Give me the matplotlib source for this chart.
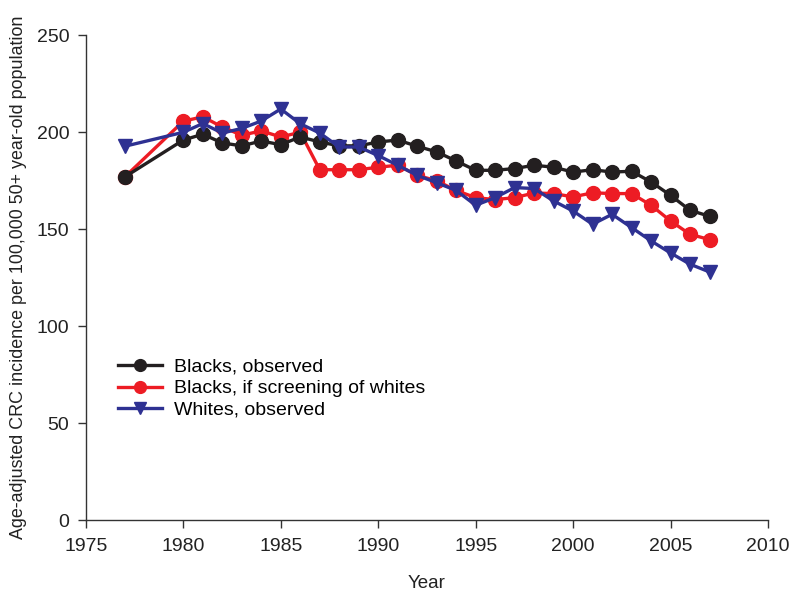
import matplotlib
matplotlib.use("Agg")
import matplotlib.pyplot as plt

plt.rcParams['font.family'] = ['Liberation Sans', 'DejaVu Sans']

years = [1977, 1980, 1981, 1982, 1983, 1984, 1985, 1986, 1987, 1988, 1989, 1990,
         1991, 1992, 1993, 1994, 1995, 1996, 1997, 1998, 1999, 2000, 2001, 2002,
         2003, 2004, 2005, 2006, 2007]
blacks_observed = [177, 196, 199, 194.5, 193, 195.5, 193.6, 197.6, 195, 193, 193, 195,
                   196, 192.8, 189.9, 185.2, 180.4, 180.4, 181.3, 183, 182, 179.5, 180.7, 179.5,
                   179.9, 174.4, 167.5, 159.8, 156.7]
blacks_if_screening = [177, 205.7, 208, 202.7, 198.5, 200.7, 197.6, 200, 180.7, 180.7, 180.7, 182,
                       183, 177.8, 175, 170, 166.3, 165.3, 166.3, 168.7, 168.4, 166.7, 168.8, 168.4,
                       168.4, 162.4, 154.3, 147.4, 144.7]
whites_observed = [192.8, 200, 204.5, 199.6, 202, 205.8, 212, 204.4, 199.6, 192.4, 192.4, 188,
                   183, 177.8, 174, 170, 162.4, 166.3, 171.5, 171, 164.6, 159.4, 152.6, 157.7,
                   150.9, 144, 137.8, 132, 128]

x_ticks = [1975, 1980, 1985, 1990, 1995, 2000, 2005, 2010]
y_ticks = [0, 50, 100, 150, 200, 250]

fig = plt.figure(figsize=(7.95, 5.98), dpi=100)
ax = fig.add_axes([0.108, 0.130, 0.858, 0.811])

lw = 2.4
ax.plot(years, blacks_observed, color='#231f20', lw=lw, marker='o', ms=10,
        label='Blacks, observed', zorder=3)
ax.plot(years, blacks_if_screening, color='#ed1c24', lw=lw, marker='o', ms=10,
        label='Blacks, if screening of whites', zorder=2)
ax.plot(years, whites_observed, color='#2e3192', lw=lw, marker='v', ms=10,
        label='Whites, observed', zorder=4)

ax.set_xlim(1975, 2010)
ax.set_ylim(0, 250)
ax.set_xticks(x_ticks)
ax.set_yticks(y_ticks)
for s in ['top', 'right']:
    ax.spines[s].set_visible(False)
for s in ['left', 'bottom']:
    ax.spines[s].set_color('#333333')
    ax.spines[s].set_linewidth(1.0)
ax.tick_params(direction='out', length=6, width=1.0, labelsize=14, colors='#333333',
               labelcolor='#222222')
ax.tick_params(axis='y', pad=6)
ax.tick_params(axis='x', pad=7)
ax.set_xlabel('Year', fontsize=13.5, labelpad=14, color='#222222')
ax.set_ylabel('Age-adjusted CRC incidence per 100,000 50+ year-old population',
              fontsize=12.9, labelpad=7, color='#222222')

leg = ax.legend(loc='upper left', bbox_to_anchor=(0.035, 0.35), frameon=False,
                fontsize=14, handlelength=2.3, markerscale=0.85, labelspacing=0.2,
                handletextpad=0.6, borderaxespad=0)

fig.savefig('out.png', dpi=100)
